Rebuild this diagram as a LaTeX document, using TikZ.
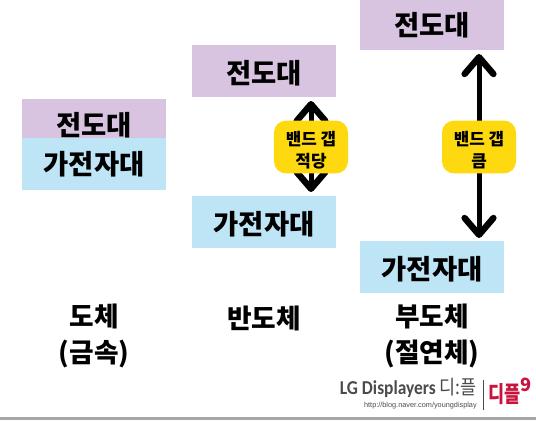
\documentclass[tikz,border=0pt]{standalone}
\usepackage{fontspec}
\setmainfont{Noto Sans CJK KR}
\newfontfamily\latinfont{Carlito}
\newfontfamily\urlfont{Liberation Sans}
\usetikzlibrary{arrows.meta}
\definecolor{condcol}{RGB}{216,196,224}
\definecolor{valcol}{RGB}{190,229,245}
\definecolor{gapcol}{RGB}{255,217,15}
\definecolor{logored}{RGB}{200,20,60}
\definecolor{logogray}{RGB}{75,75,75}
\tikzset{
  band/.style={minimum width=3.6cm,inner sep=0pt,text height=0.64cm,text depth=0pt,
    font=\fontsize{19.5}{20}\selectfont\bfseries},
  condband/.style={band,fill=condcol},
  valband/.style={band,fill=valcol},
  gaplabel/.style={fill=gapcol,rounded corners=0.3cm,minimum width=1.85cm,minimum height=1.32cm,
    align=center,inner sep=0pt,font=\fontsize{12}{15.6}\selectfont\bfseries},
  gaparrow/.style={line width=0.125cm,
    {Straight Barb[length=0.42cm,width=0.72cm,line width=0.16cm,round]}-{Straight Barb[length=0.42cm,width=0.72cm,line width=0.16cm,round]}},
  kind/.style={align=center,inner sep=0pt,font=\fontsize{19}{26}\selectfont\bfseries}
}
\begin{document}
\begin{tikzpicture}[x=0.025cm,y=-0.025cm]
  \useasboundingbox (0,0) rectangle (536,420);
  % metal
  \node[condband,minimum height=0.975cm,text height=0.85cm] (cond1) at (94,118.5) {전도대};
  \node[valband,minimum height=1.3cm,text height=0.52cm] (val1) at (94,164) {가전자대};
  % semiconductor
  \node[condband,minimum height=1.3cm] (cond2) at (264,71) {전도대};
  \node[valband,minimum height=1.3cm] (val2) at (264,222) {가전자대};
  % insulator
  \node[condband,minimum height=1.25cm,text height=0.5cm] (cond3) at (432,25) {전도대};
  \node[valband,minimum height=1.3cm] (val3) at (432,267) {가전자대};
  % gap arrows
  \coordinate (top2) at (311,101);
  \coordinate (bot2) at (311,192);
  \coordinate (top3) at (479,54);
  \coordinate (bot3) at (479,238);
  \draw[gaparrow] (top2) -- (bot2);
  \draw[gaparrow] (top3) -- (bot3);
  \node[gaplabel] (gap2) at (311,147) {\rule{0pt}{0.52cm}밴드 갭\\적당};
  \node[gaplabel] (gap3) at (479,147) {\rule{0pt}{0.52cm}밴드 갭\\큼};
  % names
  \node[kind] (name1) at (94,336) {도체\\(금속)};
  \node[kind] (name2) at (264,318) {반도체};
  \node[kind] (name3) at (432,336) {부도체\\(절연체)};
  % logo
  \fill[black!35] (0,417) rectangle (536,420);
  \node[text=logogray,inner sep=0pt,anchor=east] (logo) at (477,388)
    {\fontsize{14}{15}\selectfont\scalebox{0.885}[1]{\latinfont\bfseries LG Displayers \normalfont 디:플}};
  \node[text=logogray,inner sep=0pt,anchor=east] (blog) at (477,406)
    {\fontsize{5.2}{6}\selectfont\urlfont http://blog.naver.com/youngdisplay};
  \draw[logogray,line width=0.4pt] (483,380) -- (483,410);
  \node[text=logored,inner sep=0pt,anchor=west] (mark) at (488,394)
    {\fontsize{16}{18}\selectfont\bfseries\scalebox{0.78}[1]{디플}};
  \node[text=logored,inner sep=0pt,anchor=west] (nine) at (520,385)
    {\fontsize{13}{14}\selectfont\bfseries 9};
\end{tikzpicture}
\end{document}
